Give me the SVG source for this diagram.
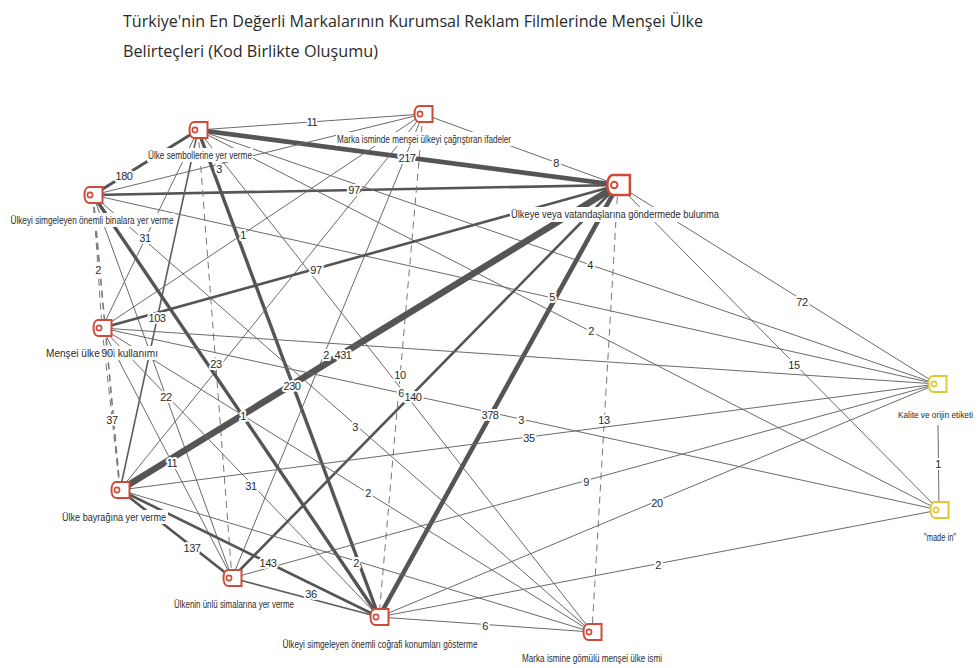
<svg xmlns="http://www.w3.org/2000/svg" xmlns:xlink="http://www.w3.org/1999/xlink" width="978" height="668" viewBox="0 0 978 668">
<style>
.title{font-family:"Open Sans","Liberation Sans",sans-serif;font-size:17px;fill:#2a2a2a}
.nl{font-family:"Liberation Sans",sans-serif;font-size:10px;fill:#2b2b2b}
.el{font-family:"Liberation Sans",sans-serif;font-size:11px;fill:#2b2b2b;stroke:#fff;stroke-width:4;paint-order:stroke;stroke-linejoin:round;letter-spacing:-0.4px}
.bg{fill:#fff}
line{stroke:#6a6a6a;stroke-width:1;fill:none}
.w15{stroke-width:1.6;stroke:#5e5e5e}
.w25{stroke-width:2.6;stroke:#555}
.w3{stroke-width:3;stroke:#555}
.w35{stroke-width:3.4;stroke:#555}
.w45{stroke-width:4.6;stroke:#555}
.w6{stroke-width:6.5;stroke:#555}
.d{stroke-dasharray:7 5;stroke:#777}
.red{color:#cf4a39}
.yel{color:#e2c933}
</style>
<defs>
<g id="tag">
<path d="M-4,-8 H9.5 V8 H-4 C-10,8 -10,-8 -4,-8 Z" fill="#fff" stroke="currentColor" stroke-width="2"/>
<circle cx="-3" cy="0" r="2.6" fill="none" stroke="currentColor" stroke-width="1.6"/>
</g>
</defs>
<rect width="978" height="668" fill="#fff"/>
<g id="title">
<text class="title" x="123" y="27" textLength="580" lengthAdjust="spacingAndGlyphs">Türkiye'nin En Değerli Markalarının Kurumsal Reklam Filmlerinde Menşei Ülke</text>
<text class="title" x="123" y="57" textLength="255" lengthAdjust="spacingAndGlyphs">Belirteçleri (Kod Birlikte Oluşumu)</text>
</g>
<g id="connectors">
<line x1="198" y1="130" x2="423" y2="114"/>
<line class="w45" x1="198" y1="130" x2="618" y2="185"/>
<line x1="423" y1="114" x2="618" y2="185"/>
<line class="w3" x1="198" y1="130" x2="93" y2="195"/>
<line class="w25" x1="93" y1="195" x2="618" y2="185"/>
<line x1="423" y1="114" x2="93" y2="195"/>
<line x1="198" y1="130" x2="102" y2="328"/>
<line class="w15" x1="198" y1="130" x2="120" y2="490"/>
<line class="d" x1="198" y1="130" x2="232" y2="578"/>
<line class="w35" x1="198" y1="130" x2="379" y2="617"/>
<line x1="198" y1="130" x2="937" y2="384"/>
<line x1="198" y1="130" x2="939" y2="510"/>
<line x1="198" y1="130" x2="592" y2="632"/>
<line x1="423" y1="114" x2="102" y2="328"/>
<line x1="423" y1="114" x2="120" y2="490"/>
<line x1="423" y1="114" x2="232" y2="578"/>
<line class="d" x1="423" y1="114" x2="379" y2="617"/>
<line class="d" x1="93" y1="195" x2="102" y2="328"/>
<line class="d w15" x1="93" y1="195" x2="120" y2="490"/>
<line x1="93" y1="195" x2="232" y2="578"/>
<line class="w35" x1="93" y1="195" x2="379" y2="617"/>
<line x1="93" y1="195" x2="592" y2="632"/>
<line x1="93" y1="195" x2="937" y2="384"/>
<line class="w25" x1="618" y1="185" x2="102" y2="328"/>
<line class="w6" x1="618" y1="185" x2="120" y2="490"/>
<line class="w25" x1="618" y1="185" x2="232" y2="578"/>
<line class="w45" x1="618" y1="185" x2="379" y2="617"/>
<line class="d" x1="618" y1="185" x2="592" y2="632"/>
<line x1="618" y1="185" x2="937" y2="384"/>
<line x1="618" y1="185" x2="939" y2="510"/>
<line class="d" x1="102" y1="328" x2="120" y2="490"/>
<line x1="102" y1="328" x2="379" y2="617"/>
<line x1="102" y1="328" x2="592" y2="632"/>
<line x1="102" y1="328" x2="937" y2="384"/>
<line x1="102" y1="328" x2="939" y2="510"/>
<line x1="102" y1="328" x2="232" y2="578"/>
<line class="w25" x1="120" y1="490" x2="232" y2="578"/>
<line class="w25" x1="120" y1="490" x2="379" y2="617"/>
<line x1="120" y1="490" x2="937" y2="384"/>
<line x1="120" y1="490" x2="592" y2="632"/>
<line class="w15" x1="232" y1="578" x2="379" y2="617"/>
<line x1="232" y1="578" x2="937" y2="384"/>
<line x1="379" y1="617" x2="592" y2="632"/>
<line x1="379" y1="617" x2="937" y2="384"/>
<line x1="379" y1="617" x2="939" y2="510"/>
<line x1="938" y1="425" x2="939" y2="510"/>
</g>
<g id="node-ulke-sembolleri">
<rect class="bg" x="147" y="148" width="106" height="14"/>
<use xlink:href="#tag" href="#tag" class="red" x="198" y="130"/>
<text class="nl" x="200" y="159" text-anchor="middle" textLength="104" lengthAdjust="spacingAndGlyphs">Ülke sembollerine yer verme</text>
</g>
<g id="node-marka-isminde">
<rect class="bg" x="336" y="132" width="176" height="14"/>
<use xlink:href="#tag" href="#tag" class="red" x="423" y="114"/>
<text class="nl" x="424" y="143" text-anchor="middle" textLength="174" lengthAdjust="spacingAndGlyphs">Marka isminde menşei ülkeyi çağrıştıran ifadeler</text>
</g>
<g id="node-binalar">
<rect class="bg" x="9" y="213" width="166" height="14"/>
<use xlink:href="#tag" href="#tag" class="red" x="93" y="195"/>
<text class="nl" x="92" y="224" text-anchor="middle" textLength="163" lengthAdjust="spacingAndGlyphs">Ülkeyi simgeleyen önemli binalara yer verme</text>
</g>
<g id="node-ulkeye-gonderme">
<rect class="bg" x="510" y="207" width="211" height="15"/>
<use xlink:href="#tag" href="#tag" class="red" transform="translate(618 185) scale(1.25)"/>
<text class="nl" x="615" y="218" text-anchor="middle" textLength="208" lengthAdjust="spacingAndGlyphs">Ülkeye veya vatandaşlarına göndermede bulunma</text>
</g>
<g id="node-dil">
<rect class="bg" x="45" y="346" width="115" height="14"/>
<use xlink:href="#tag" href="#tag" class="red" x="102" y="328"/>
<text class="nl" x="102" y="357" text-anchor="middle" textLength="112" lengthAdjust="spacingAndGlyphs">Menşei ülke dili kullanımı</text>
</g>
<g id="node-bayrak">
<rect class="bg" x="61" y="510" width="107" height="14"/>
<use xlink:href="#tag" href="#tag" class="red" x="120" y="490"/>
<text class="nl" x="114" y="521" text-anchor="middle" textLength="104" lengthAdjust="spacingAndGlyphs">Ülke bayrağına yer verme</text>
</g>
<g id="node-simalar">
<rect class="bg" x="173" y="597" width="123" height="14"/>
<use xlink:href="#tag" href="#tag" class="red" x="232" y="578"/>
<text class="nl" x="234" y="608" text-anchor="middle" textLength="120" lengthAdjust="spacingAndGlyphs">Ülkenin ünlü simalarına yer verme</text>
</g>
<g id="node-cografi">
<rect class="bg" x="281" y="637" width="198" height="14"/>
<use xlink:href="#tag" href="#tag" class="red" x="379" y="617"/>
<text class="nl" x="380" y="648" text-anchor="middle" textLength="195" lengthAdjust="spacingAndGlyphs">Ülkeyi simgeleyen önemli coğrafi konumları gösterme</text>
</g>
<g id="node-gomulu">
<rect class="bg" x="521" y="651" width="143" height="14"/>
<use xlink:href="#tag" href="#tag" class="red" x="592" y="632"/>
<text class="nl" x="592" y="662" text-anchor="middle" textLength="140" lengthAdjust="spacingAndGlyphs">Marka ismine gömülü menşei ülke ismi</text>
</g>
<g id="node-kalite">
<rect class="bg" x="896" y="407" width="80" height="14"/>
<use xlink:href="#tag" href="#tag" class="yel" x="937" y="384"/>
<text class="nl" x="898" y="418" style="font-size:9px" textLength="75" lengthAdjust="spacingAndGlyphs">Kalite ve orijin etiketi</text>
</g>
<g id="node-made-in">
<rect class="bg" x="923" y="530" width="35" height="14"/>
<use xlink:href="#tag" href="#tag" class="yel" x="939" y="510"/>
<text class="nl" x="940" y="541" text-anchor="middle" textLength="32" lengthAdjust="spacingAndGlyphs">"made in"</text>
</g>
<g id="connector-labels" text-anchor="middle">
<text class="el" x="312" y="126">11</text>
<text class="el" x="407" y="162">217</text>
<text class="el" x="556" y="167">8</text>
<text class="el" x="124" y="180">180</text>
<text class="el" x="219" y="173">3</text>
<text class="el" x="354" y="194">97</text>
<text class="el" x="243" y="239">1</text>
<text class="el" x="145" y="242">31</text>
<text class="el" x="98" y="274">2</text>
<text class="el" x="316" y="274">97</text>
<text class="el" x="157" y="322">103</text>
<text class="el" x="590" y="269">4</text>
<text class="el" x="802" y="306">72</text>
<text class="el" x="552" y="301">5</text>
<text class="el" x="591" y="335">2</text>
<text class="el" x="794" y="369">15</text>
<text class="el" x="107" y="357" style="stroke-width:2">90</text>
<text class="el" x="216" y="368">23</text>
<text class="el" x="326" y="359">2</text>
<text class="el" x="343" y="359">431</text>
<text class="el" x="292" y="390">230</text>
<text class="el" x="400" y="379">10</text>
<text class="el" x="401" y="397">6</text>
<text class="el" x="413" y="401">140</text>
<text class="el" x="166" y="401">22</text>
<text class="el" x="112" y="424">37</text>
<text class="el" x="243" y="420">1</text>
<text class="el" x="490" y="419">378</text>
<text class="el" x="521" y="424">3</text>
<text class="el" x="529" y="442">35</text>
<text class="el" x="604" y="424">13</text>
<text class="el" x="355" y="431">3</text>
<text class="el" x="172" y="467">11</text>
<text class="el" x="251" y="490">31</text>
<text class="el" x="368" y="497">2</text>
<text class="el" x="586" y="486">9</text>
<text class="el" x="657" y="507">20</text>
<text class="el" x="938" y="468">1</text>
<text class="el" x="192" y="552">137</text>
<text class="el" x="268" y="567">143</text>
<text class="el" x="356" y="567">2</text>
<text class="el" x="311" y="598">36</text>
<text class="el" x="485" y="630">6</text>
<text class="el" x="658" y="569">2</text>
</g>
</svg>
